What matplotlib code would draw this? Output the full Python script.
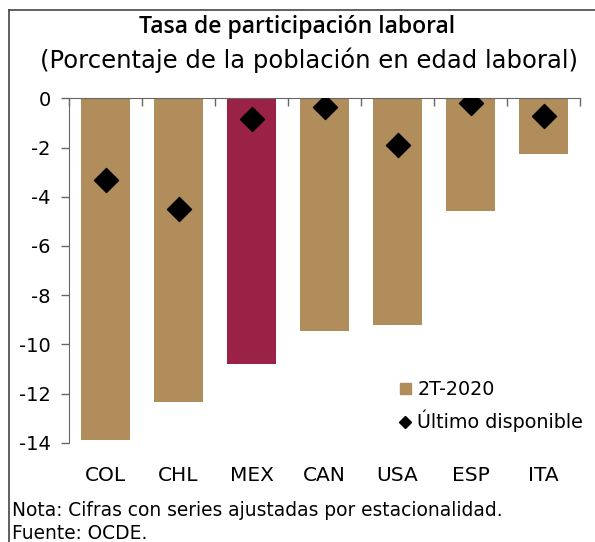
import matplotlib
matplotlib.use("Agg")
import matplotlib.pyplot as plt
from matplotlib.lines import Line2D
import numpy as np

countries = ["COL", "CHL", "MEX", "CAN", "USA", "ESP", "ITA"]
q2_2020 = [-13.9, -12.35, -10.8, -9.45, -9.22, -4.6, -2.25]
latest = [-3.32, -4.5, -0.85, -0.34, -1.9, -0.18, -0.72]
yticks = [0, -2, -4, -6, -8, -10, -12, -14]

TAN = "#B08D5B"
MAROON = "#9B2247"
plt.rcParams['font.family'] = ['DejaVu Sans']

fig = plt.figure(figsize=(5.95, 5.42), dpi=100)
ax = fig.add_axes([0.116, 0.1832, 0.859, 0.6354])

x = np.arange(len(countries))
colors = [MAROON if c == "MEX" else TAN for c in countries]
ax.bar(x, q2_2020, width=0.67, color=colors, label="2T-2020", zorder=2)
ax.scatter(x, latest, marker="D", s=150, color="black", zorder=3, label="Último disponible")

ax.set_xlim(-0.5, len(countries) - 0.5)
ax.set_ylim(-14, 0)
ax.set_yticks(yticks)
ax.set_yticklabels([str(v) for v in yticks], fontsize=14)
ax.tick_params(axis='y', direction='out', length=6, width=1, color='#666666', pad=7)

ax.set_xticks(x)
ax.set_xticklabels(countries, fontsize=14.5)
ax.tick_params(axis='x', which='major', length=0, pad=17)
ax.set_xticks(np.arange(-0.5, len(countries)), minor=True)
ax.tick_params(axis='x', which='minor', top=True, bottom=False, direction='in', length=6, width=1, color='#666666')

for s in ["right", "bottom"]:
    ax.spines[s].set_visible(False)
ax.spines["left"].set_color('#666666')
ax.spines["top"].set_color('#666666')

handles = [
    plt.Rectangle((0, 0), 1, 1, color=TAN),
    Line2D([0], [0], marker="D", color="black", linestyle="none", markersize=6),
]
ax.legend(handles, ["2T-2020", "Último disponible"], loc="lower right",
          bbox_to_anchor=(1.04, -0.02), frameon=False, fontsize=13.8,
          handlelength=0.55, handleheight=0.55, handletextpad=0.35, labelspacing=0.55)

fig.text(0.50, 0.950, "Tasa de participación laboral", ha="center", va="center",
         fontsize=16.6, fontweight=600, family=["Open Sans", "DejaVu Sans"])
fig.text(0.519, 0.889, "(Porcentaje de la población en edad laboral)", ha="center", va="center",
         fontsize=17.5)
fig.text(0.02, 0.058, "Nota: Cifras con series ajustadas por estacionalidad.", ha="left", va="center", fontsize=13.4)
fig.text(0.02, 0.016, "Fuente: OCDE.", ha="left", va="center", fontsize=13.4)

fig.add_artist(Line2D([0.015, 0.015], [0, 0.982], color="#444444", lw=1.2, transform=fig.transFigure))
fig.add_artist(Line2D([0.015, 1.0], [0.982, 0.982], color="#444444", lw=1.2, transform=fig.transFigure))

fig.savefig("out.png", dpi=100)
